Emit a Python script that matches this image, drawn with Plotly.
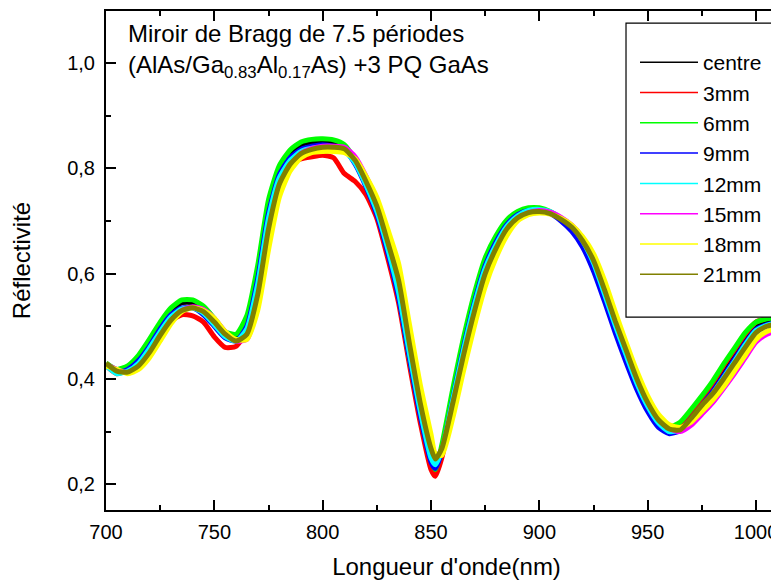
import plotly.graph_objects as go

# ---------------- data ----------------
wavelength = [700, 705, 710, 715, 720, 725, 730, 735, 740, 745, 750, 755, 760, 765, 770,
              775, 780, 785, 790, 795, 800, 805, 810, 815, 820, 825, 830, 835, 840, 845,
              850, 852, 855, 860, 865, 870, 875, 880, 885, 890, 895, 900, 905, 910, 915,
              920, 925, 930, 935, 940, 945, 950, 955, 960, 965, 970, 975, 980, 985, 990,
              995, 1000, 1005, 1010, 1015, 1020]

centre = [.428, .415, .422, .440, .470, .502, .530, .545, .545, .533, .510, .485, .478, .510, .605,
          .730, .798, .828, .845, .850, .852, .850, .842, .812, .768, .715, .642, .556, .436, .330,
          .240, .224, .262, .365, .465, .552, .622, .666, .698, .715, .722, .722, .716, .703, .685,
          .656, .612, .553, .493, .437, .385, .342, .312, .300, .306, .330, .356, .384, .415, .446,
          .476, .500, .508, .512, .515, .516]

mm3 = [.425, .410, .418, .432, .455, .485, .510, .522, .520, .508, .480, .460, .462, .492, .585,
       .710, .780, .808, .818, .822, .825, .820, .790, .775, .750, .705, .630, .545, .428, .318,
       .228, .215, .250, .350, .455, .545, .620, .665, .698, .714, .720, .720, .716, .704, .687,
       .660, .618, .560, .500, .442, .388, .345, .315, .302, .310, .335, .362, .392, .425, .455,
       .485, .508, .515, .518, .520, .521]

mm6 = [.430, .418, .425, .445, .475, .508, .535, .550, .550, .538, .515, .490, .485, .520, .615,
       .740, .805, .835, .850, .855, .856, .854, .845, .815, .770, .718, .645, .560, .440, .335,
       .245, .228, .275, .380, .478, .562, .630, .672, .702, .718, .725, .725, .718, .704, .686,
       .658, .615, .556, .496, .440, .388, .346, .318, .308, .318, .342, .368, .396, .428, .458,
       .488, .508, .514, .517, .520, .521]

mm9 = [.428, .412, .418, .435, .462, .495, .522, .535, .535, .522, .500, .478, .472, .500, .590,
       .715, .788, .820, .836, .842, .845, .842, .835, .808, .765, .712, .640, .555, .440, .330,
       .242, .230, .262, .362, .460, .545, .615, .660, .693, .712, .720, .720, .714, .700, .680,
       .650, .605, .548, .488, .432, .380, .338, .308, .296, .302, .325, .350, .376, .406, .437,
       .468, .494, .503, .507, .510, .511]

mm12 = [.425, .410, .415, .430, .458, .490, .518, .533, .535, .525, .503, .480, .472, .495, .580,
        .705, .782, .815, .832, .838, .840, .838, .833, .810, .768, .718, .648, .565, .450, .340,
        .250, .237, .265, .360, .455, .540, .610, .655, .690, .710, .720, .722, .718, .706, .690,
        .662, .620, .562, .502, .446, .392, .348, .316, .300, .303, .323, .348, .372, .402, .433,
        .465, .492, .502, .507, .510, .511]

mm15 = [.428, .418, .412, .420, .445, .478, .508, .530, .537, .532, .515, .490, .472, .475, .540,
        .665, .760, .805, .828, .838, .842, .842, .840, .822, .785, .738, .675, .605, .490, .375,
        .283, .255, .262, .340, .430, .515, .590, .640, .680, .705, .716, .720, .717, .707, .692,
        .668, .632, .580, .520, .462, .405, .358, .325, .306, .300, .312, .333, .355, .382, .410,
        .440, .470, .485, .492, .496, .498]

mm18 = [.425, .418, .410, .418, .440, .472, .505, .528, .535, .530, .515, .490, .475, .475, .530,
        .645, .745, .795, .820, .830, .832, .832, .830, .818, .785, .745, .685, .620, .505, .390,
        .295, .258, .255, .325, .415, .500, .575, .630, .672, .700, .712, .715, .713, .705, .692,
        .670, .638, .588, .528, .470, .415, .368, .333, .313, .308, .318, .338, .360, .385, .415,
        .445, .475, .490, .497, .500, .502]

mm21 = [.430, .415, .413, .425, .450, .483, .512, .530, .535, .528, .508, .485, .472, .485, .560,
        .685, .770, .808, .828, .836, .840, .840, .837, .815, .775, .728, .660, .588, .468, .355,
        .268, .248, .268, .353, .445, .528, .600, .648, .685, .706, .716, .718, .714, .703, .688,
        .662, .625, .570, .510, .455, .400, .355, .322, .305, .303, .325, .350, .372, .400, .430,
        .460, .488, .500, .505, .508, .510]

series_names = ["centre", "3mm", "6mm", "9mm", "12mm", "15mm", "18mm", "21mm"]
series_values = [centre, mm3, mm6, mm9, mm12, mm15, mm18, mm21]
series_colors = ["#000000", "#FF0000", "#00FF00", "#0000FF", "#00FFFF", "#FF00FF", "#FFFF00", "#808000"]

x_tickvals = [700, 750, 800, 850, 900, 950, 1000]
x_ticktext = ["700", "750", "800", "850", "900", "950", "1000"]
x_minor = [725, 775, 825, 875, 925, 975, 1025]
y_tickvals = [0.2, 0.4, 0.6, 0.8, 1.0]
y_ticktext = ["0,2", "0,4", "0,6", "0,8", "1,0"]
y_minor = [0.3, 0.5, 0.7, 0.9]

FONT = "Arial, 'Liberation Sans', sans-serif"

fig = go.Figure()
for name, vals, col in zip(series_names, series_values, series_colors):
    fig.add_trace(go.Scatter(x=wavelength, y=vals, mode="lines", name=name,
                             legendgroup=name, showlegend=False,
                             line=dict(color=col, width=5, shape="spline", smoothing=0.6)))
# thin legend samples
for name, col in zip(series_names, series_colors):
    fig.add_trace(go.Scatter(x=[None], y=[None], mode="lines", name=name,
                             legendgroup=name, showlegend=True,
                             line=dict(color=col, width=1.5)))

fig.update_layout(
    width=779, height=583,
    margin=dict(l=98, r=0, t=3, b=81, autoexpand=False),
    paper_bgcolor="white", plot_bgcolor="white",
    font=dict(family=FONT, size=20, color="black"),
    showlegend=True,
    legend=dict(x=0.7768, y=0.9378, xanchor="left", yanchor="top",
                borderwidth=0, bgcolor="rgba(0,0,0,0)",
                font=dict(size=21, color="black"), itemwidth=58,
                tracegroupgap=0, entrywidth=220),
    shapes=[dict(type="rect", xref="paper", yref="paper",
                 x0=0.7636, x1=1.3, y0=0.3864, y1=0.9759,
                 fillcolor="white", line=dict(color="black", width=1.2), layer="above")],
    annotations=[dict(
        x=0.0294, y=0.986, xref="paper", yref="paper", xanchor="left", yanchor="top",
        showarrow=False, align="left",
        text="Miroir de Bragg de 7.5 périodes<br>(AlAs/Ga<sub>0.83</sub>Al<sub>0.17</sub>As) +3 PQ GaAs",
        font=dict(size=24, color="black", family=FONT))],
)

fig.update_xaxes(
    range=[700, 1014.3], showgrid=False, zeroline=False,
    showline=True, linecolor="black", linewidth=2, mirror="ticks",
    ticks="inside", ticklen=10, tickwidth=2, tickcolor="black",
    tickvals=x_tickvals, ticktext=x_ticktext, ticklabelstandoff=3,
    tickfont=dict(size=20),
    minor=dict(ticks="inside", ticklen=5, tickwidth=2, tickcolor="black", tickvals=x_minor),
    title=dict(text="Longueur d'onde(nm)", font=dict(size=24), standoff=16),
)
fig.update_yaxes(
    range=[0.1511, 1.0988], showgrid=False, zeroline=False,
    showline=True, linecolor="black", linewidth=2, mirror="ticks",
    ticks="inside", ticklen=10, tickwidth=2, tickcolor="black",
    tickvals=y_tickvals, ticktext=y_ticktext, ticklabelstandoff=5,
    tickfont=dict(size=20),
    minor=dict(ticks="inside", ticklen=5, tickwidth=2, tickcolor="black", tickvals=y_minor),
    title=dict(text="Réflectivité", font=dict(size=24), standoff=30),
)

fig.write_html("out.html")
